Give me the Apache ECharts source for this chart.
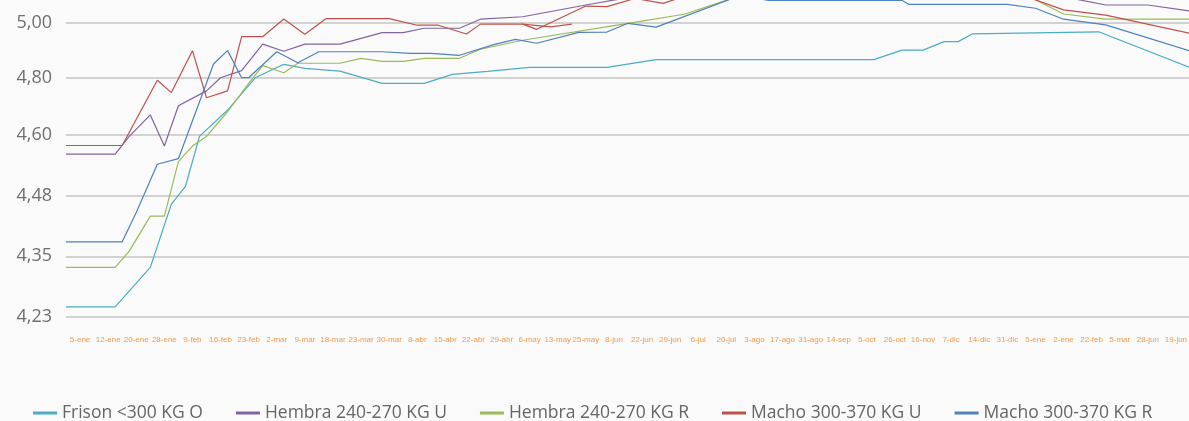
<!DOCTYPE html>
<html><head><meta charset="utf-8">
<script src="https://cdn.jsdelivr.net/npm/echarts@6/dist/echarts.min.js"></script>
<style>html,body{margin:0;padding:0;background:#fafafa}#c{width:1189px;height:421px}</style>
</head><body><div id="c"></div>
<script>
// Visible date labels (category axis)
const xLabels = ['5-ene','12-ene','20-ene','28-ene','9-feb','16-feb','23-feb','2-mar','9-mar','18-mar','23-mar','30-mar','8-abr','15-abr','22-abr','29-abr','6-may','13-may','25-may','8-jun','22-jun','29-jun','6-jul','20-jul','3-ago','17-ago','31-ago','14-sep','5-oct','26-oct','16-nov','7-dic','14-dic','31-dic','5-ene','2-ene','22-feb','5-mar','28-jun','19-jun'];
const seriesNames = ['Frison <300 KG O','Hembra 240-270 KG U','Hembra 240-270 KG R','Macho 300-370 KG U','Macho 300-370 KG R'];
const seriesColors = ['#4BACC6','#8064A2','#9BBB59','#C0504D','#4F81BD'];
// Price axis (the source axis is not linear: ticks are evenly-ish spaced)
const yTickValues = [4.23,4.35,4.48,4.60,4.80,5.00];
const yTickLabels = ['4,23','4,35','4,48','4,60','4,80','5,00'];
const yTickPos = [0,1,2,3,3.942,4.843];
const periodCount = 160; // period steps along the data line
// Series: [period step, price]
const frison = [[0,4.250],[7,4.250],[12,4.328],[15,4.462],[17,4.498],[19,4.597],[23,4.687],[27,4.801],[31,4.849],[34,4.834],[39,4.824],[45,4.780],[51,4.780],[55,4.812],[60,4.823],[66,4.838],[77,4.838],[84,4.866],[115,4.866],[119,4.901],[122,4.901],[125,4.932],[127,4.932],[129,4.960],[147,4.968],[160,4.837]];
const hembraU = [[0,4.562],[7,4.562],[9,4.597],[12,4.670],[14,4.578],[16,4.702],[20,4.754],[22,4.800],[25,4.826],[28,4.923],[31,4.897],[34,4.923],[39,4.923],[45,4.965],[48,4.965],[51,4.981],[56,4.981],[59,5.014],[65,5.023],[74,5.066],[80,5.093],[90,5.13],[135,5.13],[143,5.091],[148,5.066],[154,5.066],[160,5.044]];
const hembraR = [[0,4.328],[7,4.328],[9,4.361],[12,4.436],[14,4.436],[16,4.547],[18,4.578],[20,4.597],[23,4.681],[26,4.780],[28,4.844],[31,4.818],[33,4.853],[39,4.853],[42,4.871],[45,4.860],[48,4.860],[51,4.871],[56,4.871],[59,4.904],[65,4.937],[80,4.999],[88,5.032],[99,5.126],[134,5.137],[142,5.033],[148,5.014],[160,5.014]];
const machoU = [[0,4.579],[8,4.579],[13,4.791],[15,4.748],[18,4.899],[20,4.730],[23,4.754],[25,4.950],[28,4.950],[31,5.015],[34,4.959],[37,5.016],[46,5.016],[50,4.992],[53,4.992],[57,4.960],[59,4.996],[65,4.996],[67,4.977],[74,5.062],[77,5.060],[81,5.090],[85,5.072],[87,5.089],[95,5.13],[130,5.13],[137,5.094],[142,5.048],[148,5.029],[160,4.962]];
const machoUExtra = [[65,4.996],[69,4.986],[72,4.996]];
const machoR = [[0,4.381],[8,4.381],[10,4.444],[13,4.542],[16,4.553],[21,4.850],[23,4.899],[25,4.800],[26,4.800],[30,4.895],[33,4.855],[36,4.895],[45,4.895],[49,4.889],[52,4.889],[56,4.882],[61,4.922],[64,4.940],[67,4.926],[73,4.966],[77,4.967],[80,4.999],[84,4.985],[96,5.101],[100,5.083],[119,5.083],[120,5.068],[134,5.068],[138,5.054],[142,5.014],[148,4.993],[160,4.898]];

function toPos(v){
  const n = yTickValues.length;
  let i = 0;
  while (i < n - 2 && v > yTickValues[i+1]) i++;
  const v0 = yTickValues[i], v1 = yTickValues[i+1];
  const p0 = yTickPos[i], p1 = yTickPos[i+1];
  return p0 + (v - v0) * (p1 - p0) / (v1 - v0);
}
function conv(arr){ return arr.map(d => [d[0], toPos(d[1])]); }

const allData = [frison, hembraU, hembraR, machoU, machoR];
const series = allData.map((d,i) => ({
  name: seriesNames[i], type: 'line', xAxisIndex: 1, data: conv(d),
  showSymbol: false, symbol: 'none', animation: false,
  lineStyle: { width: 1.2, color: seriesColors[i] }, itemStyle: { color: seriesColors[i] }
}));
series.push({
  name: 'extra', type: 'line', xAxisIndex: 1, data: conv(machoUExtra),
  showSymbol: false, symbol: 'none', animation: false,
  lineStyle: { width: 1.2, color: seriesColors[3] }, itemStyle: { color: seriesColors[3] }
});

const chart = echarts.init(document.getElementById('c'), null, { renderer: 'canvas' });
chart.setOption({
  backgroundColor: '#fafafa',
  animation: false,
  grid: { left: 66, right: -1, top: -47.2, bottom: 104, containLabel: false, outerBoundsMode: 'none' },
  xAxis: [
    { type: 'category', data: xLabels, boundaryGap: true, position: 'bottom',
      axisLine: { show: false }, axisTick: { show: false }, splitLine: { show: false },
      axisLabel: { interval: 0, color: '#f39a4a', fontSize: 8, fontFamily: 'Liberation Sans', margin: 19 } },
    { type: 'value', min: 0, max: periodCount, show: false, splitLine: { show: false } }
  ],
  yAxis: {
    type: 'value', min: 0, max: 6,
    axisLine: { show: false },
    axisTick: { show: false, customValues: yTickPos },
    axisLabel: { customValues: yTickPos, color: '#6f6f6f', fontSize: 18, fontFamily: 'Open Sans', margin: 14,
      formatter: function(v){ let best = 0; for (let i=0;i<yTickPos.length;i++){ if (Math.abs(yTickPos[i]-v) < Math.abs(yTickPos[best]-v)) best = i; } return yTickLabels[best]; } },
    splitLine: { show: true, lineStyle: { color: '#c4c4c4', width: 1.5 } }
  },
  legend: {
    data: seriesNames, top: 399, left: 28, itemGap: 33, itemWidth: 24, itemHeight: 3, icon: 'rect',
    textStyle: { fontSize: 17.5, color: '#666', fontFamily: 'Open Sans' }
  },
  series: series
});
</script>
</body></html>
